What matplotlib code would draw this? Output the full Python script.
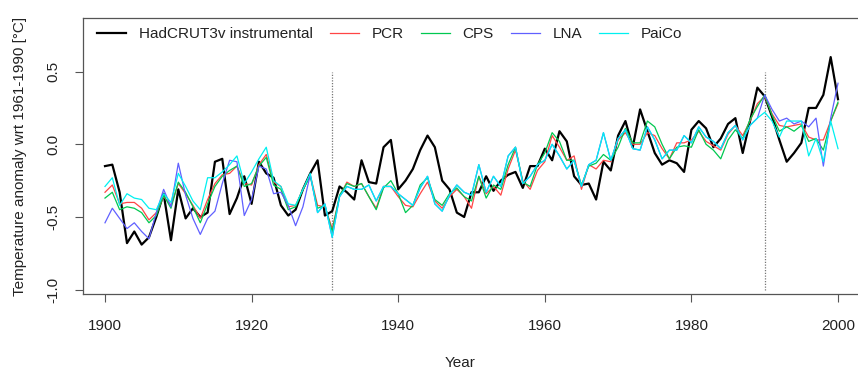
import matplotlib
matplotlib.use("Agg")
import matplotlib.pyplot as plt
import numpy as np

plt.rcParams['font.family'] = ['Liberation Sans', 'DejaVu Sans']

years = list(range(1900, 2001))

hadcrut = [-0.15, -0.14, -0.33, -0.68, -0.60, -0.69, -0.64, -0.50, -0.34, -0.66,
           -0.31, -0.51, -0.44, -0.50, -0.47, -0.12, -0.10, -0.48, -0.37, -0.22,
           -0.41, -0.12, -0.20, -0.23, -0.42, -0.49, -0.45, -0.31, -0.20, -0.11,
           -0.49, -0.46, -0.29, -0.33, -0.38, -0.11, -0.26, -0.27, -0.02, 0.03,
           -0.31, -0.25, -0.17, -0.04, 0.06, -0.02, -0.25, -0.31, -0.47, -0.50,
           -0.33, -0.33, -0.22, -0.32, -0.25, -0.21, -0.19, -0.30, -0.15, -0.15,
           -0.03, -0.11, 0.09, 0.02, -0.22, -0.28, -0.27, -0.38, -0.12, -0.18,
           0.06, 0.16, -0.02, 0.24, 0.09, -0.06, -0.14, -0.11, -0.13, -0.19,
           0.10, 0.16, 0.11, -0.02, 0.04, 0.14, 0.18, -0.06, 0.16, 0.39,
           0.33, 0.19, 0.03, -0.12, -0.06, 0.01, 0.25, 0.25, 0.34, 0.60,
           0.31]

pcr = [-0.33, -0.28, -0.41, -0.40, -0.40, -0.44, -0.52, -0.47, -0.36, -0.42,
       -0.27, -0.34, -0.42, -0.51, -0.38, -0.27, -0.21, -0.20, -0.15, -0.27,
       -0.28, -0.14, -0.07, -0.26, -0.29, -0.43, -0.42, -0.31, -0.21, -0.42,
       -0.43, -0.58, -0.36, -0.26, -0.29, -0.27, -0.36, -0.44, -0.29, -0.29,
       -0.36, -0.42, -0.43, -0.34, -0.26, -0.39, -0.44, -0.36, -0.31, -0.36,
       -0.44, -0.22, -0.34, -0.29, -0.35, -0.17, -0.04, -0.25, -0.31, -0.18,
       -0.12, 0.06, -0.02, -0.11, -0.08, -0.31, -0.14, -0.17, -0.11, -0.12,
       0.03, 0.08, 0.00, 0.00, 0.08, 0.06, -0.03, -0.10, 0.01, 0.01,
       0.03, 0.09, 0.02, -0.01, -0.04, 0.07, 0.13, 0.06, 0.16, 0.28,
       0.33, 0.21, 0.13, 0.12, 0.13, 0.14, 0.05, 0.03, 0.03, 0.16,
       0.28]

cps = [-0.37, -0.33, -0.45, -0.43, -0.44, -0.47, -0.54, -0.49, -0.35, -0.44,
       -0.26, -0.33, -0.43, -0.54, -0.41, -0.29, -0.22, -0.18, -0.15, -0.29,
       -0.27, -0.15, -0.09, -0.28, -0.31, -0.45, -0.43, -0.31, -0.22, -0.44,
       -0.42, -0.60, -0.35, -0.27, -0.29, -0.27, -0.36, -0.45, -0.30, -0.25,
       -0.34, -0.47, -0.42, -0.28, -0.23, -0.38, -0.42, -0.34, -0.30, -0.36,
       -0.39, -0.22, -0.37, -0.28, -0.31, -0.14, -0.02, -0.26, -0.29, -0.14,
       -0.06, 0.08, 0.02, -0.11, -0.11, -0.28, -0.15, -0.13, -0.07, -0.11,
       -0.02, 0.11, 0.01, 0.01, 0.16, 0.12, 0.00, -0.10, -0.02, -0.01,
       -0.02, 0.10, 0.00, -0.04, -0.10, 0.03, 0.10, 0.04, 0.17, 0.26,
       0.34, 0.20, 0.09, 0.12, 0.09, 0.13, 0.02, 0.04, -0.04, 0.16,
       0.29]

paico = [-0.29, -0.23, -0.42, -0.34, -0.37, -0.38, -0.44, -0.45, -0.34, -0.40,
         -0.20, -0.29, -0.39, -0.45, -0.23, -0.23, -0.19, -0.14, -0.08, -0.27,
         -0.19, -0.10, -0.02, -0.25, -0.29, -0.41, -0.42, -0.31, -0.20, -0.47,
         -0.41, -0.64, -0.36, -0.29, -0.31, -0.31, -0.28, -0.39, -0.29, -0.29,
         -0.34, -0.38, -0.42, -0.30, -0.22, -0.41, -0.46, -0.35, -0.28, -0.33,
         -0.35, -0.14, -0.33, -0.22, -0.29, -0.08, -0.02, -0.27, -0.22, -0.14,
         -0.11, 0.00, -0.08, -0.17, -0.11, -0.29, -0.14, -0.11, 0.08, -0.11,
         0.04, 0.10, -0.03, -0.04, 0.12, 0.03, -0.10, -0.04, -0.04, 0.06,
         0.01, 0.12, 0.05, 0.02, -0.03, 0.08, 0.13, 0.03, 0.13, 0.18,
         0.22, 0.16, 0.05, 0.16, 0.16, 0.16, -0.08, 0.04, -0.12, 0.16,
         -0.03]

# LNA lies underneath PaiCo during the calibration period (1929-1989)
lna = [-0.54, -0.44, -0.51, -0.58, -0.54, -0.60, -0.65, -0.47, -0.31, -0.43,
       -0.13, -0.35, -0.51, -0.62, -0.51, -0.46, -0.27, -0.11, -0.12, -0.49,
       -0.38, -0.15, -0.17, -0.34, -0.33, -0.42, -0.56, -0.43, -0.21, -0.47,
       -0.41, -0.64, -0.36, -0.29, -0.31, -0.31, -0.28, -0.39, -0.29, -0.29,
       -0.34, -0.38, -0.42, -0.30, -0.22, -0.41, -0.46, -0.35, -0.28, -0.33,
       -0.35, -0.14, -0.33, -0.22, -0.29, -0.08, -0.02, -0.27, -0.22, -0.14,
       -0.11, 0.00, -0.08, -0.17, -0.11, -0.29, -0.14, -0.11, 0.08, -0.11,
       0.04, 0.10, -0.03, -0.04, 0.12, 0.03, -0.10, -0.04, -0.04, 0.06,
       0.01, 0.12, 0.05, 0.02, -0.03, 0.08, 0.13, 0.03, 0.13, 0.18,
       0.34, 0.24, 0.16, 0.18, 0.14, 0.16, 0.12, 0.18, -0.15, 0.18,
       0.42]

calib_bounds = [1931, 1990]
x_ticks = [1900, 1920, 1940, 1960, 1980, 2000]
y_ticks = [-1.0, -0.5, 0.0, 0.5]
y_ticklabels = ["-1.0", "-0.5", "0.0", "0.5"]

W, H = 858, 373
fig = plt.figure(figsize=(W / 100, H / 100), dpi=100)
left, right, top, bottom = 83, 860, 17.7, 294.3
ax = fig.add_axes([left / W, 1 - bottom / H, (right - left) / W, (bottom - top) / H])

ax.plot(years, hadcrut, color='black', lw=1.6, label='HadCRUT3v instrumental', zorder=3)
ax.plot(years, pcr, color='#FF4545', lw=0.9, label='PCR', zorder=4)
ax.plot(years, cps, color='#00C850', lw=0.9, label='CPS', zorder=5)
ax.plot(years, lna, color='#6060FF', lw=0.9, label='LNA', zorder=6)
ax.plot(years, paico, color='#00F0F0', lw=0.9, label='PaiCo', zorder=7)

for xb in calib_bounds:
    ax.plot([xb, xb], [-1.0, 0.5], color='#777777', lw=0.9, ls=(0, (1, 1.2)), zorder=2)

ax.set_xlim(1897.0, 2003.0)
ax.set_ylim(-1.032, 0.871)
ax.set_xticks(x_ticks)
ax.set_xticklabels([str(t) for t in x_ticks])
ax.set_yticks(y_ticks)
ax.set_yticklabels(y_ticklabels)

FS = 11
for sp in ax.spines.values():
    sp.set_color('#555555')
    sp.set_linewidth(0.9)
ax.tick_params(direction='out', length=5.5, width=0.8, color='#555555',
               labelsize=FS, labelcolor='#222222')
ax.tick_params(axis='x', pad=12)
ax.tick_params(axis='y', pad=11, labelrotation=90)
for lab in ax.get_yticklabels():
    lab.set_va('center')

fig.text(20 / W, 1 - 156 / H, 'Temperature anomaly wrt 1961-1990 [°C]', rotation=90,
         ha='center', va='center', fontsize=FS, color='#222222')
fig.text(460 / W, 1 - 363 / H, 'Year', ha='center', va='center', fontsize=FS,
         color='#222222')

leg = ax.legend(loc='upper left', bbox_to_anchor=(0.018, 0.965), ncol=5, frameon=False,
                fontsize=FS, handlelength=1.9, handletextpad=0.85, columnspacing=1.1,
                borderpad=0, borderaxespad=0)
for t in leg.get_texts():
    t.set_color('#222222')

fig.savefig('out.png', dpi=100)
